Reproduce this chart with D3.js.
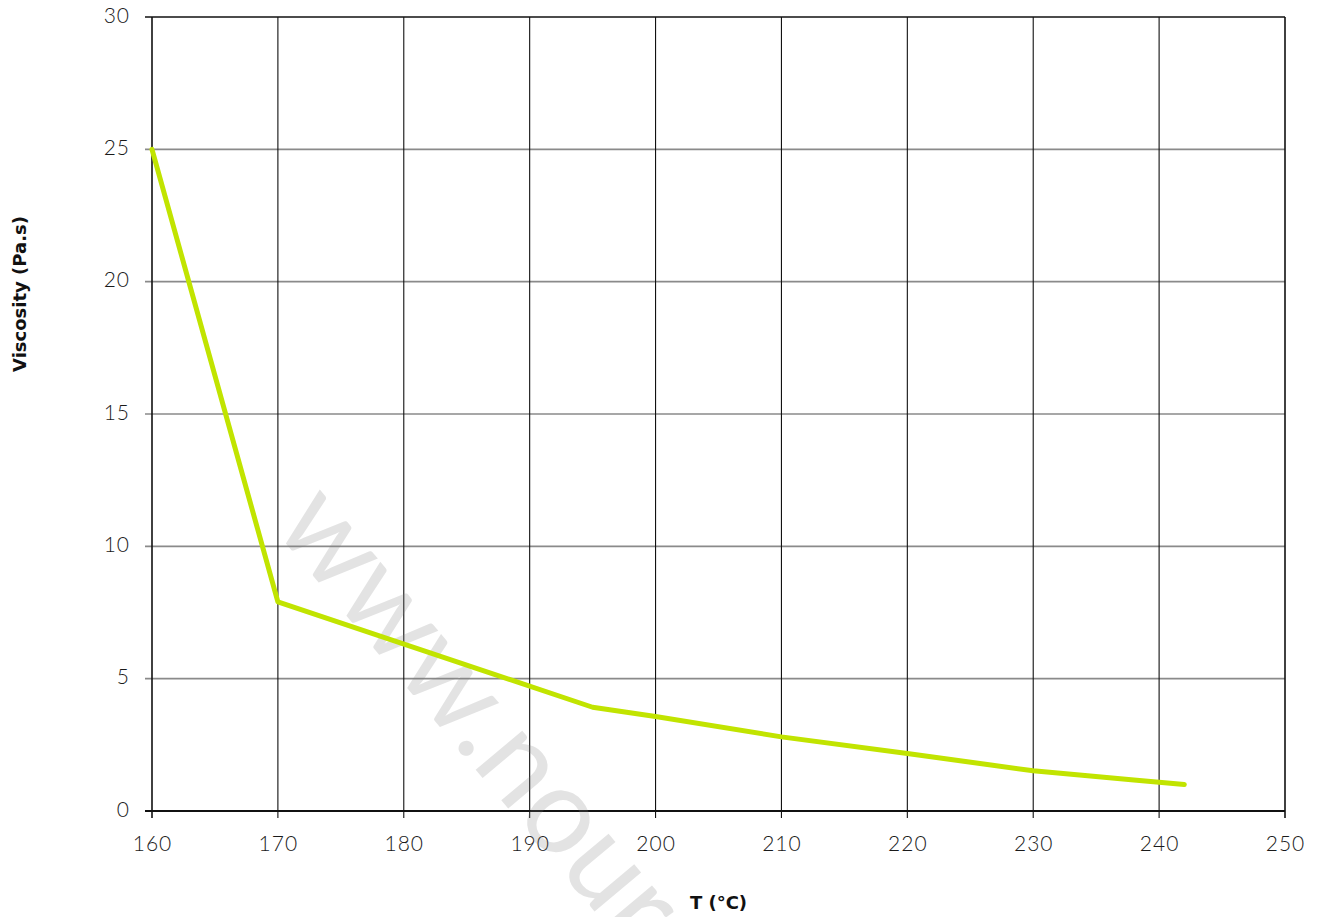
<!DOCTYPE html>
<html>
<head>
<meta charset="utf-8">
<script src="https://cdn.jsdelivr.net/npm/d3@7"></script>
<style>
  body { margin: 0; background: #ffffff; }
  svg { display: block; }
  .tick text { font-family: "Lato", sans-serif; font-weight: 300; font-size: 21px; letter-spacing: 1px; fill: #1a1a1a; }
  .axis-title { font-family: "DejaVu Sans", sans-serif; font-weight: 700; font-size: 18px; fill: #111; }
</style>
</head>
<body>
<div id="chart"></div>
<script>
// temperature (°C) and viscosity (Pa.s)
var temps = [160, 170, 195, 200, 210, 220, 230, 238, 242];
var viscosity = [25, 7.9, 3.92, 3.57, 2.8, 2.17, 1.52, 1.17, 1.0];

var xTicks = [160, 170, 180, 190, 200, 210, 220, 230, 240, 250];
var yTicks = [0, 5, 10, 15, 20, 25, 30];

var width = 1320, height = 917;
var margin = {top: 17, right: 35, bottom: 106, left: 152};

var svg = d3.select("#chart").append("svg")
    .attr("width", width)
    .attr("height", height);

var x = d3.scaleLinear().domain([160, 250]).range([margin.left, width - margin.right]);
var y = d3.scaleLinear().domain([0, 30]).range([height - margin.bottom, margin.top]);

// horizontal grid lines (grey)
svg.append("g").selectAll("line")
    .data(yTicks)
    .enter().append("line")
    .attr("x1", x(160) - 7).attr("x2", x(250))
    .attr("y1", function(d) { return y(d); })
    .attr("y2", function(d) { return y(d); })
    .attr("stroke", function(d) { return (d == 0 || d == 30) ? "#111" : "#8a8a8a"; })
    .attr("stroke-width", function(d) { return (d == 0) ? 2 : 1.6; });

// vertical grid lines (black)
svg.append("g").selectAll("line")
    .data(xTicks)
    .enter().append("line")
    .attr("x1", function(d) { return x(d); })
    .attr("x2", function(d) { return x(d); })
    .attr("y1", y(30))
    .attr("y2", y(0) + 7)
    .attr("stroke", "#111")
    .attr("stroke-width", function(d) { return (d == 160 || d == 250) ? 1.6 : 1.1; });

// axes, labels only
var xAxis = svg.append("g")
    .attr("transform", "translate(0," + y(0) + ")")
    .call(d3.axisBottom(x).tickValues(xTicks).tickSize(0).tickPadding(25).tickFormat(d3.format("d")));
xAxis.select(".domain").remove();

var yAxis = svg.append("g")
    .attr("transform", "translate(" + x(160) + ",0)")
    .call(d3.axisLeft(y).tickValues(yTicks).tickSize(0).tickPadding(22).tickFormat(d3.format("d")));
yAxis.select(".domain").remove();
yAxis.selectAll(".tick text").attr("dy", "0.25em");

// watermark
svg.append("text")
    .attr("transform", "translate(272,527) rotate(50)")
    .attr("font-family", "Lato, sans-serif")
    .attr("font-weight", 400)
    .attr("font-size", 120)
    .attr("fill", "#808080")
    .attr("fill-opacity", 0.22)
    .text("www.nour");

// the curve
var line = d3.line()
    .x(function(d, i) { return x(temps[i]); })
    .y(function(d) { return y(d); });

svg.append("path")
    .datum(viscosity)
    .attr("d", line)
    .attr("fill", "none")
    .attr("stroke", "#c1e400")
    .attr("stroke-width", 5)
    .attr("stroke-linejoin", "round")
    .attr("stroke-linecap", "round");

// axis titles
svg.append("text")
    .attr("class", "axis-title")
    .attr("x", x(205)).attr("y", 909)
    .attr("text-anchor", "middle")
    .text("T (°C)");

svg.append("text")
    .attr("class", "axis-title")
    .attr("transform", "translate(26,294) rotate(-90)")
    .attr("text-anchor", "middle")
    .text("Viscosity (Pa.s)");
</script>
</body>
</html>
